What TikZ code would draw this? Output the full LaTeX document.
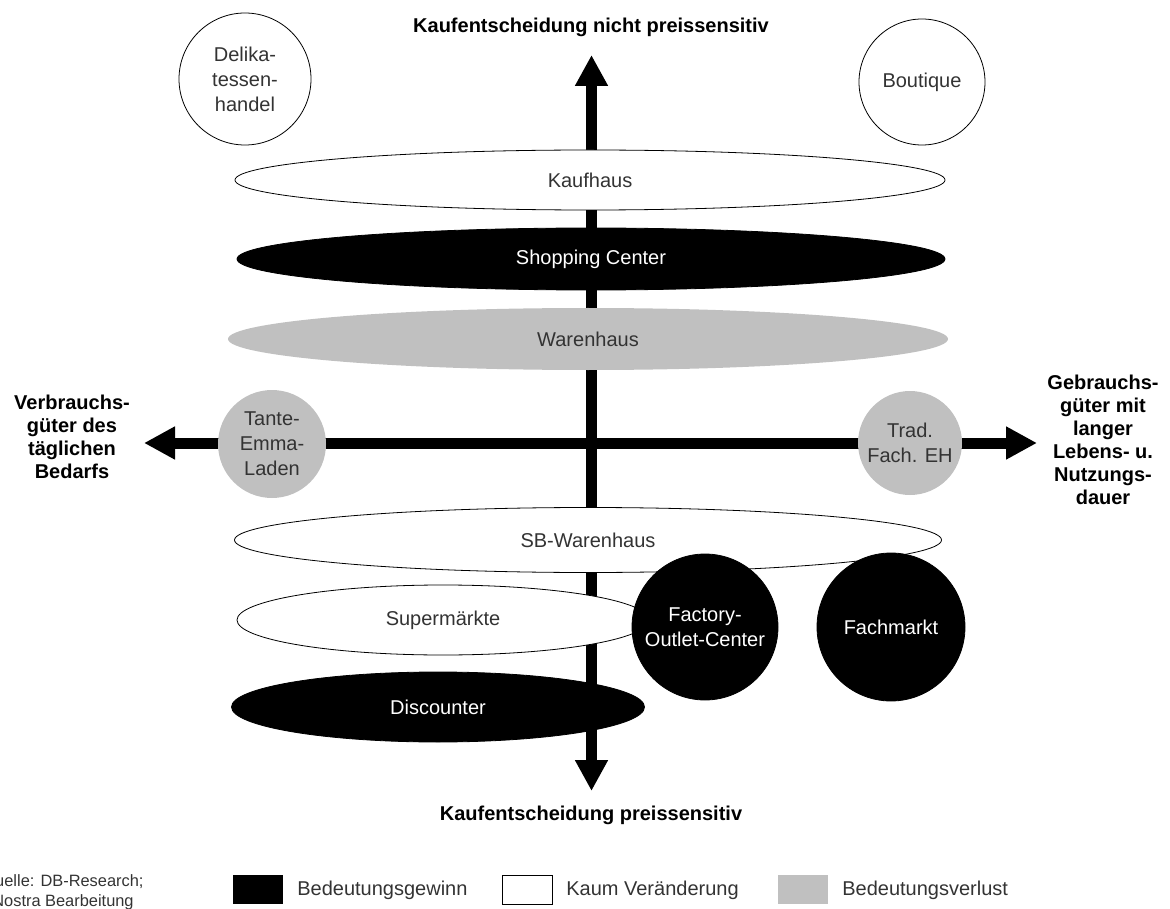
\documentclass[tikz,border=0pt]{standalone}
\usepackage{fontspec}
\setmainfont{Liberation Sans}
\usetikzlibrary{positioning,arrows.meta,shapes.geometric}
\definecolor{lossgray}{HTML}{C0C0C0}
\definecolor{labeltext}{HTML}{333333}

\begin{document}
\begin{tikzpicture}[x=1pt, y=-1pt,
  axis/.style={line width=11pt,
    {Triangle[length=31pt,width=31pt]}-{Triangle[length=31pt,width=31pt]}},
  shp/.style={inner sep=0pt, align=center, line width=0.8pt,
    font=\fontsize{20}{25}\selectfont},
  gain/.style={shp, fill=black, draw=black, text=white},
  same/.style={shp, fill=white, draw=black, text=labeltext},
  loss/.style={shp, fill=lossgray, draw=none, text=labeltext},
  axislabel/.style={font=\fontsize{20}{23}\selectfont\bfseries, align=center},
  legbox/.style={minimum width=50pt, minimum height=29pt, inner sep=0pt,
    anchor=north west, line width=0.8pt},
  legtext/.style={font=\fontsize{20}{24}\selectfont, text=labeltext}
]
\useasboundingbox (0,0) rectangle (1170,909);

% Axes
\coordinate (top) at (591.5,55);
\coordinate (bottom) at (591.5,791);
\coordinate (left) at (144,443);
\coordinate (right) at (1037,443);
\draw[axis] (bottom) -- (top);
\draw[axis] (left) -- (right);

% Ellipses across the axis
\node[same, ellipse, minimum width=710pt, minimum height=60pt] (kaufhaus) at (590,180) {Kaufhaus};
\node[gain, ellipse, minimum width=708pt, minimum height=62pt] (shopping) at (591,259) {Shopping Center};
\node[loss, ellipse, minimum width=720pt, minimum height=62pt] (warenhaus) at (588,339) {Warenhaus};
\node[same, ellipse, minimum width=707pt, minimum height=65pt] (sbwarenhaus) at (588,540) {SB-Warenhaus};
\node[same, ellipse, minimum width=412pt, minimum height=70pt] (supermarkt) at (443,620) {Supermärkte};
\node[gain, ellipse, minimum width=413pt, minimum height=70pt] (discounter) at (438,707) {Discounter};

% Circles
\node[same, circle, minimum size=132pt] (delikat) at (245,79) {Delika-\\tessen-\\handel};
\node[same, circle, minimum size=126pt] (boutique) at (922,82) {Boutique};
\node[loss, circle, minimum size=108pt] (tante) at (272,444) {Tante-\\Emma-\\Laden};
\node[loss, circle, minimum size=104pt] (tradfach) at (910,443) {Trad.\\Fach. EH};
\node[gain, circle, minimum size=146pt] (factory) at (705,627) {Factory-\\Outlet-Center};
\node[gain, circle, minimum size=148pt] (fachmarkt) at (891,627) {Fachmarkt};

% Axis labels
\node[axislabel] (toplabel) at (591,27) {Kaufentscheidung nicht preissensitiv};
\node[axislabel] (bottomlabel) at (591,815) {Kaufentscheidung preissensitiv};
\node[axislabel] (leftlabel) at (72,437) {Verbrauchs-\\güter des\\täglichen\\Bedarfs};
\node[axislabel] (rightlabel) at (1103,440) {Gebrauchs-\\güter mit\\langer\\Lebens- u.\\Nutzungs-\\dauer};

% Legend
\node[legbox, fill=black] (boxgain) at (233,875) {};
\node[legtext, right=10pt of boxgain] (txtgain) {Bedeutungsgewinn};
\node[legbox, draw=black, fill=white] (boxsame) at (502,875) {};
\node[legtext, right=10pt of boxsame] (txtsame) {Kaum Veränderung};
\node[legbox, fill=lossgray] (boxloss) at (778,875) {};
\node[legtext, right=10pt of boxloss] (txtloss) {Bedeutungsverlust};

% Source
\node[font=\fontsize{16.4}{20}\selectfont, align=center, text=labeltext] (source) at (63,892) {Quelle: DB-Research;\\Nostra Bearbeitung};

\end{tikzpicture}
\end{document}
